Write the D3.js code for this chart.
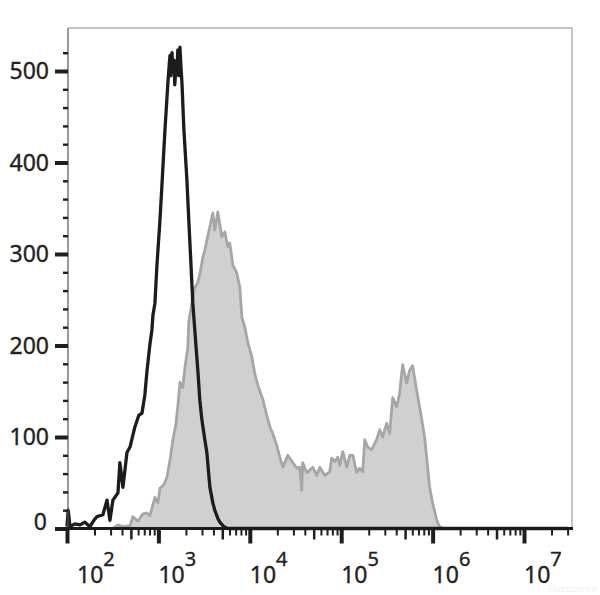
<!DOCTYPE html>
<html>
<head>
<meta charset="utf-8">
<script src="https://cdn.jsdelivr.net/npm/d3@7"></script>
<style>
  html, body { margin: 0; padding: 0; background: #fff; }
  svg { display: block; }
</style>
</head>
<body>
<svg id="chart" width="600" height="595"></svg>
<script>
// ---- data (fluorescence intensity, event count) ----
const controlIntensity = [100,103,108,122,139,157,178,197,213,247,274,295,318,361,379,409,453,489,553,612,661,711,748,807,849,871,916,964,1040,1090,1180,1270,1320,1340,1370,1410,1440,1480,1510,1550,1590,1630,1670,1720,1760,1810,1900,2050,2150,2260,2380,2570,2700,2840,2990,3220,3390,3660,3940,4140,4470,4700,5200,5750,30000000];
const controlCount     = [2,20,2,5,4,7,2,9,13,15,31,9,31,39,72,45,83,89,111,124,126,146,171,201,217,233,246,288,337,373,436,487,510,517,495,520,500,512,485,501,498,523,495,526,507,487,436,381,337,293,246,201,173,140,119,97,83,45,28,20,11,7,2,0,0];

const stainedIntensity = [318,361,409,489,526,597,677,748,807,916,988,1040,1150,1240,1340,1440,1550,1630,1720,1850,1950,2100,2150,2320,2500,2700,2840,3070,3220,3390,3660,3940,4140,4470,4700,4940,5330,5750,6040,6520,7210,7780,8180,8820,9510,10500,11300,12200,13900,15300,16600,17800,19700,21300,23000,26000,29500,32600,35200,37000,37900,42000,45300,48900,54000,58200,66100,74800,78700,84900,91600,96400,104000,115000,124000,134000,148000,159000,172000,181000,195000,215000,244000,264000,284000,314000,339000,366000,405000,436000,470000,520000,561000,604000,668000,721000,818000,882000,927000,1000000,1110000,1190000,1290000];
const stainedCount     = [0,4,2,3,13,8,16,17,14,34,28,44,48,56,75,97,113,133,160,154,176,198,226,246,263,269,278,297,304,315,330,345,326,346,332,319,324,308,312,288,279,264,231,220,203,188,170,157,141,124,111,104,91,78,67,80,72,66,67,42,72,61,64,67,58,67,58,62,77,73,78,69,84,67,80,80,61,66,62,97,89,86,97,108,100,115,104,143,133,148,179,159,173,178,151,133,100,67,45,28,9,2,0];

const yMajorTicks = [0,100,200,300,400,500];
const yMinorTicks = [20,40,60,80,120,140,160,180,220,240,260,280,320,340,360,380,420,440,460,480,520];
const xDecadeExponents = [2,3,4,5,6,7];
const xMinorMultipliers = [2,3,4,6,7,8,9];
const xMidMultipliers = [5];
const watermark = "Elabscience";

// ---- layout ----
const svg = d3.select("#chart");
const L = 68, R = 572, T = 28, B = 528.5;
const x = d3.scaleLog().domain([100, Math.pow(10, 7.525)]).range([67, 572]);
const y = d3.scaleLinear().domain([0, 547]).range([B, T]);

const decades = xDecadeExponents.map(e => Math.pow(10, e));
const xMinor = [], xMid = [];
[1,2,3,4,5,6,7].forEach(e => {
  const base = Math.pow(10, e);
  xMinorMultipliers.forEach(m => { const v = m * base; if (x(v) <= R + 0.5 && v > 100) xMinor.push(v); });
  xMidMultipliers.forEach(m => { const v = m * base; if (x(v) <= R + 0.5 && v > 100) xMid.push(v); });
});

// frame (top and right, thin)
svg.append("path")
  .attr("d", `M${L},${T}H${R}V${B}`)
  .attr("fill", "none").attr("stroke", "#8a8a8a").attr("stroke-width", 1);

// stained histogram (filled grey)
const stained = stainedIntensity.map((v, i) => ({v, c: stainedCount[i]}));
svg.append("path")
  .datum(stained)
  .attr("d", d3.area().x(d => x(d.v)).y0(y(0)).y1(d => y(d.c)))
  .attr("fill", "#d0d0d0");
svg.append("path")
  .datum(stained)
  .attr("d", d3.line().x(d => x(d.v)).y(d => y(d.c)))
  .attr("fill", "none").attr("stroke", "#a6a6a8").attr("stroke-width", 2.8)
  .attr("stroke-linejoin", "round");

// control histogram (black line)
const control = controlIntensity.map((v, i) => ({v, c: controlCount[i]}));
svg.append("path")
  .datum(control)
  .attr("d", d3.line().x(d => x(d.v)).y(d => y(d.c)))
  .attr("fill", "none").attr("stroke", "#1c1c1c").attr("stroke-width", 3.3)
  .attr("stroke-linejoin", "round");

// y axis
function styleAxis(g, w) {
  g.select(".domain").remove();
  g.selectAll(".tick line").attr("stroke", "#1e1e1e").attr("stroke-width", w);
  g.selectAll(".tick text").remove();
}
svg.append("line").attr("x1", L).attr("x2", L).attr("y1", T).attr("y2", B)
  .attr("stroke", "#555").attr("stroke-width", 1.2);
svg.append("g").attr("transform", `translate(${L},0)`)
  .call(d3.axisLeft(y).tickValues(yMinorTicks).tickSize(5).tickFormat(""))
  .call(g => styleAxis(g, 2.4));
svg.append("g").attr("transform", `translate(${L},0)`)
  .call(d3.axisLeft(y).tickValues(yMajorTicks).tickSize(13).tickFormat(""))
  .call(g => styleAxis(g, 4));

svg.append("g").selectAll("text").data(yMajorTicks).join("text")
  .attr("x", d => d === 0 ? 47 : 49)
  .attr("y", d => y(d) + (d === 0 ? -7 : 0))
  .attr("dy", "0.36em")
  .attr("text-anchor", "end")
  .attr("font-family", "'Noto Sans', sans-serif")
  .attr("font-size", 23)
  .attr("fill", "#222")
  .attr("stroke", "#222").attr("stroke-width", 0.35)
  .text(d => d);

// x axis
svg.append("g").attr("transform", `translate(0,${B})`)
  .call(d3.axisBottom(x).tickValues(xMinor).tickSize(7).tickFormat(""))
  .call(g => styleAxis(g, 2));
svg.append("g").attr("transform", `translate(0,${B})`)
  .call(d3.axisBottom(x).tickValues(xMid).tickSize(11).tickFormat(""))
  .call(g => styleAxis(g, 2.5));
svg.append("g").attr("transform", `translate(0,${B})`)
  .call(d3.axisBottom(x).tickValues(decades).tickSize(15).tickFormat(""))
  .call(g => styleAxis(g, 4));
svg.append("line").attr("x1", L - 1).attr("x2", R + 1).attr("y1", B).attr("y2", B)
  .attr("stroke", "#1a1a1a").attr("stroke-width", 3);

const xl = svg.append("g").selectAll("text").data(xDecadeExponents).join("text")
  .attr("x", e => x(Math.pow(10, e)) + (e === 2 ? 10 : 0))
  .attr("y", 583)
  .attr("font-family", "'Noto Sans', sans-serif")
  .attr("font-size", 23)
  .attr("fill", "#222")
  .attr("stroke", "#222").attr("stroke-width", 0.35);
xl.append("tspan").text("10");
xl.append("tspan").attr("dy", -17).attr("dx", 0).attr("font-size", 20).text(e => e);

// faint watermark (kept clear of the 10^7 label)
svg.append("text").attr("x", 597).attr("y", 592).attr("text-anchor", "end")
  .attr("font-family", "'Noto Sans', sans-serif").attr("font-size", 9)
  .attr("fill", "#f0f0f0").text(watermark);
</script>
</body>
</html>
